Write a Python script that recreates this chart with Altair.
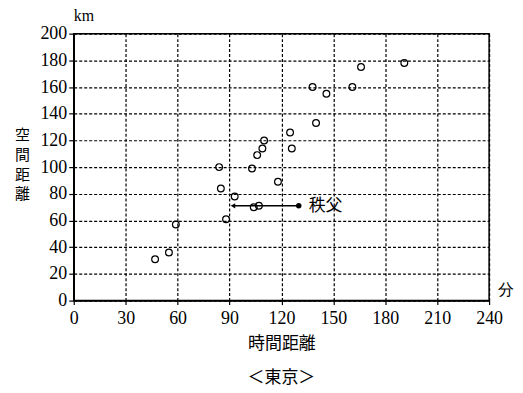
import altair as alt
import pandas as pd

# data
times = [47, 55, 59, 84, 85, 88, 93, 103, 104, 106, 107, 109, 110, 118, 125, 126, 138, 140, 146, 161, 166, 191]
dists = [31, 36, 57, 100, 84, 61, 78, 99, 70, 109, 71, 114, 120, 89, 126, 114, 160, 133, 155, 160, 175, 178]
chichibu_name = ["秩父"]
chichibu_from = [130]
chichibu_to = [92]
chichibu_dist = [71]
x_ticks = [0, 30, 60, 90, 120, 150, 180, 210, 240]
y_ticks = [0, 20, 40, 60, 80, 100, 120, 140, 160, 180, 200]
unit_text = ["km", "分"]
unit_x = [0, 245]
unit_y = [213, 8]

df = pd.DataFrame({"t": times, "d": dists})
chi = pd.DataFrame({"name": chichibu_name, "t0": chichibu_from, "t1": chichibu_to, "d": chichibu_dist})
units = pd.DataFrame({"label": unit_text, "t": unit_x, "d": unit_y})

SERIF = "Liberation Serif"
CJK = "Noto Sans CJK JP"

xs = alt.Scale(domain=[0, 240], nice=False, zero=False)
ys = alt.Scale(domain=[0, 200], nice=False, zero=False)

x_axis = alt.Axis(
    values=x_ticks, title="時間距離", tickCount=len(x_ticks),
    labelPadding=5, titlePadding=8,
)
y_axis = alt.Axis(
    values=y_ticks, title=["空", "間", "距", "離"], tickCount=len(y_ticks),
    tickSize=5, labelPadding=2,
    titleAngle=0, titleAlign="center", titleBaseline="top", titleX=-52, titleY=94,
    titleLineHeight=20, titleFontSize=15,
)


def X(field):
    return alt.X(field, type="quantitative", scale=xs, axis=x_axis)


def Y(field):
    return alt.Y(field, type="quantitative", scale=ys, axis=y_axis)


pts = alt.Chart(df).mark_point(shape="circle", filled=False, color="black", size=46, strokeWidth=1.2,
                               opacity=1).encode(
    x=X("t"), y=Y("d"),
)
arrow_line = alt.Chart(chi).mark_rule(color="black", strokeWidth=1.5).encode(
    x=X("t0"), x2="t1:Q", y=Y("d")
)
start_dot = alt.Chart(chi).mark_point(shape="circle", filled=True, color="black", size=30, opacity=1).encode(
    x=X("t0"), y=Y("d")
)
head = alt.Chart(chi).mark_point(shape="triangle-left", filled=True, color="black", size=28, opacity=1).encode(
    x=X("t1"), y=Y("d")
)
label = alt.Chart(chi).mark_text(font=CJK, fontSize=17, align="left", baseline="middle", dx=10, color="black").encode(
    x=X("t0"), y=Y("d"), text="name:N"
)
unit_marks = alt.Chart(units).mark_text(font=SERIF, fontSize=16, align="left", baseline="middle", color="black").encode(
    x=X("t"), y=Y("d"), text="label:N"
)

chart = alt.layer(pts, arrow_line, start_dot, head, label, unit_marks).properties(
    width=417, height=268,
    background="white",
    autosize=alt.AutoSizeParams(type="none"),
    padding={"left": 66, "top": 25, "right": 26, "bottom": 87},
    title=alt.TitleParams(text="＜東京＞", orient="bottom", anchor="middle", font=CJK, fontSize=17,
                          fontWeight="normal", color="black", offset=19),
).configure_axis(
    grid=True, gridDash=[3, 2], gridColor="black", gridWidth=1.2, gridOpacity=1,
    domainColor="black", domainWidth=1.5, tickColor="black", tickSize=4, tickWidth=1.2,
    labelFont=SERIF, labelFontSize=18, labelColor="black", labelFlush=False, labelOverlap=False,
    titleFont=CJK, titleFontSize=17, titleFontWeight="normal", titleColor="black",
).configure_view(stroke="black", strokeWidth=1.5)

chart.save("out.html", embed_options={"renderer": "svg", "actions": False})
